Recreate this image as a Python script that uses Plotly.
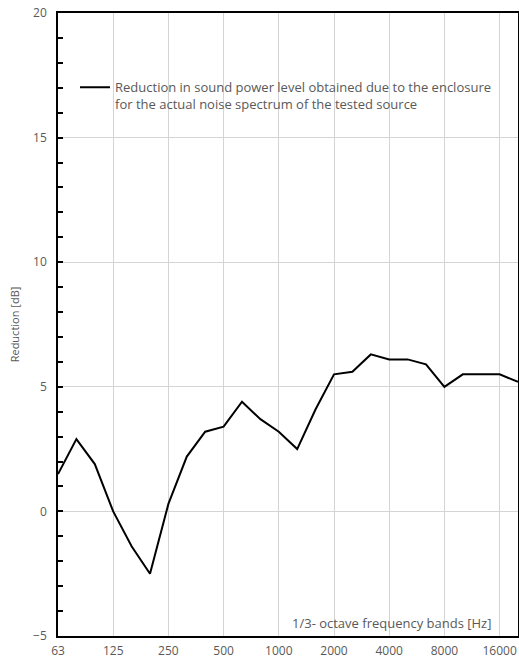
import plotly.graph_objects as go

bands = ["63", "80", "100", "125", "160", "200", "250", "315", "400", "500", "630", "800",
         "1000", "1250", "1600", "2000", "2500", "3150", "4000", "5000", "6300", "8000",
         "10000", "12500", "16000", "20000"]
reduction = [1.5, 2.9, 1.9, 0.0, -1.4, -2.5, 0.3, 2.2, 3.2, 3.4, 4.4, 3.7,
             3.2, 2.5, 4.1, 5.5, 5.6, 6.3, 6.1, 6.1, 5.9, 5.0,
             5.5, 5.5, 5.5, 5.2]
tick_bands = ["63", "125", "250", "500", "1000", "2000", "4000", "8000", "16000"]
series_name = ("Reduction in sound power level obtained due to the enclosure<br>"
               "for the actual noise spectrum of the tested source")

FONT = "Open Sans"
GREY = "#595959"
GRID = "#d4d4d4"

fig = go.Figure()
fig.add_trace(go.Scatter(
    x=bands, y=reduction, mode="lines", name=series_name,
    line=dict(color="black", width=2), showlegend=True,
))

fig.update_layout(
    width=519, height=664,
    margin=dict(l=58, r=1, t=13, b=28, autoexpand=False),
    paper_bgcolor="white", plot_bgcolor="white",
    font=dict(family=FONT, size=12, color=GREY),
    legend=dict(x=0.037, y=0.905, xanchor="left", yanchor="top",
                bgcolor="rgba(0,0,0,0)", font=dict(size=13, color=GREY),
                valign="top", tracegroupgap=0, itemwidth=30),
    xaxis=dict(
        type="category", categoryorder="array", categoryarray=bands,
        range=[0, 25], tickmode="array", tickvals=tick_bands, ticktext=tick_bands,
        showgrid=True, gridcolor=GRID, gridwidth=1,
        showline=True, linecolor="black", linewidth=1.5, mirror=True,
        ticks="", tickfont=dict(size=12, color=GREY), zeroline=False,
        ticklabelstandoff=3, ticklabeloverflow="allow",
    ),
    yaxis=dict(
        range=[-5, 20], dtick=5, tick0=0,
        showgrid=True, gridcolor=GRID, gridwidth=1,
        showline=True, linecolor="black", linewidth=1.5, mirror=True,
        ticks="inside", ticklen=5, tickcolor="black", tickwidth=1.5,
        minor=dict(dtick=1, ticks="inside", ticklen=5, tickcolor="black", tickwidth=1.5, showgrid=False),
        tickfont=dict(size=12, color=GREY), zeroline=False,
        ticklabelstandoff=7, ticklabeloverflow="allow",
        title=dict(text="Reduction [dB]", font=dict(size=11, color=GREY), standoff=11),
    ),
)

fig.add_annotation(
    text="1/3- octave frequency bands [Hz]", xref="paper", yref="paper",
    x=0.945, y=0.004, xanchor="right", yanchor="bottom", showarrow=False,
    font=dict(size=13, color=GREY),
)

fig.write_html("out.html", config={"displayModeBar": False},
               post_script="document.body.style.margin='0';document.body.style.overflow='hidden';")
